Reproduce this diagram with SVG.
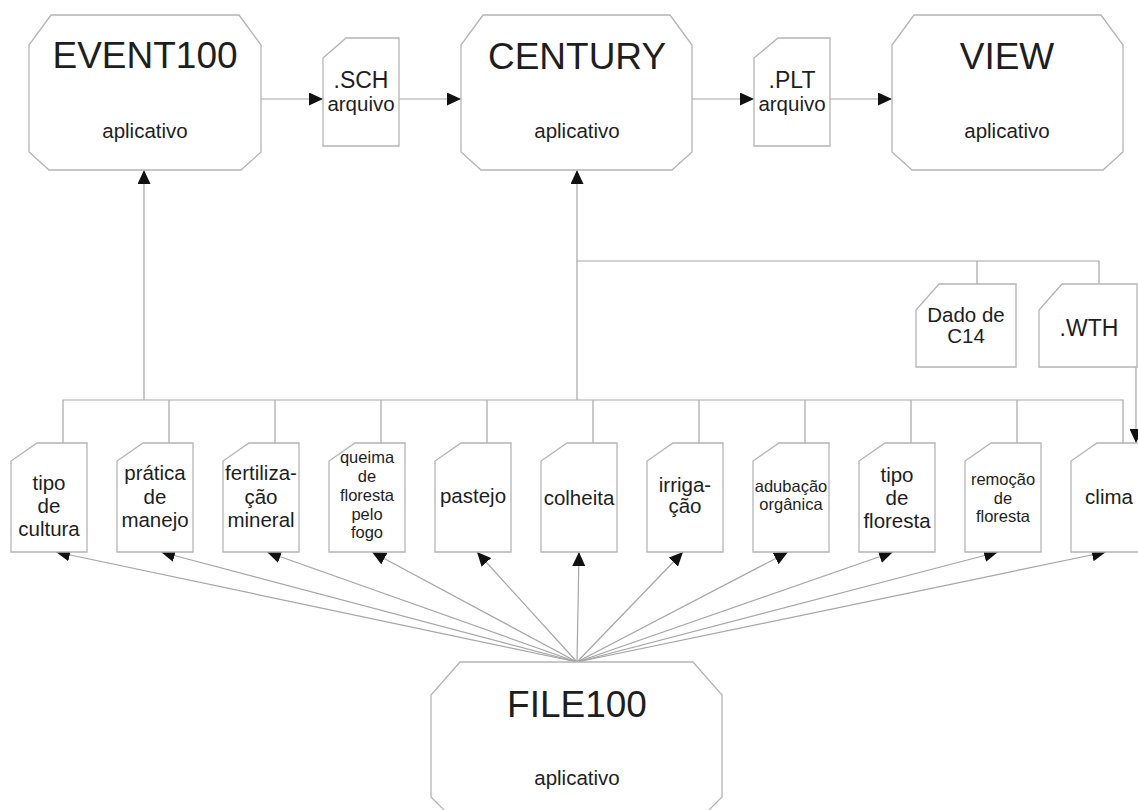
<svg xmlns="http://www.w3.org/2000/svg" width="1138" height="810" viewBox="0 0 1138 810">
<style>
.box{fill:#fff;stroke:#b4b4b4;stroke-width:1.3}
.ln{fill:none;stroke:#a6a6a6;stroke-width:1.2}
text{font-family:"Liberation Sans",Arial,sans-serif;fill:#1e1e1e;text-anchor:middle}
.t{font-size:37px}
.a{font-size:20.5px}
.f{font-size:23px}
.s{font-size:16.5px}
</style>
<defs>
<marker id="ah" viewBox="0 0 14 13" refX="14" refY="6.5" markerWidth="14" markerHeight="13" markerUnits="userSpaceOnUse" orient="auto"><path d="M0,0 L14,6.5 L0,13 Z" fill="#111"/></marker>
</defs>
<rect width="1138" height="810" fill="#fff"/>
<g id="connectors">
<path class="ln" d="M261,99 H323" marker-end="url(#ah)"/>
<path class="ln" d="M399,99 H461" marker-end="url(#ah)"/>
<path class="ln" d="M692,99 H754" marker-end="url(#ah)"/>
<path class="ln" d="M830,99 H892" marker-end="url(#ah)"/>
<path class="ln" d="M144,400 V170" marker-end="url(#ah)"/>
<path class="ln" d="M577,400 V170" marker-end="url(#ah)"/>
<path class="ln" d="M577,261 H1099 V284 M977,261 V284"/>
<path class="ln" d="M1136,367 V443" marker-end="url(#ah)"/>
<path class="ln" d="M63,443 V400 H1123 V443 M169,400 V443 M275,400 V443 M381,400 V443 M487,400 V443 M593,400 V443 M699,400 V443 M805,400 V443 M911,400 V443 M1017,400 V443"/>
<g marker-end="url(#ah)">
<path class="ln" d="M577,662 L56,552"/>
<path class="ln" d="M577,662 L161,552"/>
<path class="ln" d="M577,662 L267,552"/>
<path class="ln" d="M577,662 L372,552"/>
<path class="ln" d="M577,662 L477,552"/>
<path class="ln" d="M577,662 L579,552"/>
<path class="ln" d="M577,662 L683,552"/>
<path class="ln" d="M577,662 L788,552"/>
<path class="ln" d="M577,662 L893,552"/>
<path class="ln" d="M577,662 L998,552"/>
<path class="ln" d="M577,662 L1106,552"/>
</g>
</g>
<g id="event100">
<path class="box" d="M51,15 H239 L261,45 V152 L241,170 H49 L29,152 V45 Z"/>
<text class="t" x="145" y="68">EVENT100</text>
<text class="a" x="145" y="138">aplicativo</text>
</g>
<g id="century">
<path class="box" d="M483,15 H670 L692,45 V152 L672,170 H481 L461,152 V45 Z"/>
<text class="t" x="577" y="69">CENTURY</text>
<text class="a" x="577" y="138">aplicativo</text>
</g>
<g id="view">
<path class="box" d="M914,15 H1101 L1123,45 V152 L1103,170 H912 L892,152 V45 Z"/>
<text class="t" x="1007" y="69">VIEW</text>
<text class="a" x="1007" y="138">aplicativo</text>
</g>
<g id="file100">
<path class="box" d="M460,662 H693 L722,695 V797 L704,815 H449 L431,797 V695 Z"/>
<text class="t" x="577" y="717">FILE100</text>
<text class="a" x="577" y="785">aplicativo</text>
</g>
<g id="sch">
<path class="box" d="M346,38 H399 V146 H323 V58 Z"/>
<text class="f" x="361" y="88">.SCH</text>
<text class="a" x="361" y="111">arquivo</text>
</g>
<g id="plt">
<path class="box" d="M778,38 H830 V146 H754 V58 Z"/>
<text class="f" x="792" y="88">.PLT</text>
<text class="a" x="792" y="111">arquivo</text>
</g>
<g id="c14">
<path class="box" d="M939,284 H1016 V367 H916 V310 Z"/>
<text class="a" x="966" y="322">Dado de</text>
<text class="a" x="966" y="343">C14</text>
</g>
<g id="wth">
<path class="box" d="M1062,284 H1137 V367 H1039 V310 Z"/>
<text class="f" x="1089" y="336">.WTH</text>
</g>
<g id="tipo-cultura">
<path class="box" d="M37,443 H87 V552 H11 V461 Z"/>
<text class="a" x="49" y="490">tipo</text>
<text class="a" x="49" y="513">de</text>
<text class="a" x="49" y="536">cultura</text>
</g>
<g id="pratica-manejo">
<path class="box" d="M143,443 H193 V552 H117 V461 Z"/>
<text class="a" x="155" y="480">prática</text>
<text class="a" x="155" y="504">de</text>
<text class="a" x="155" y="527">manejo</text>
</g>
<g id="fertilizacao">
<path class="box" d="M249,443 H299 V552 H223 V461 Z"/>
<text class="a" x="261" y="480">fertiliza-</text>
<text class="a" x="261" y="504">ção</text>
<text class="a" x="261" y="527">mineral</text>
</g>
<g id="queima">
<path class="box" d="M355,443 H405 V552 H329 V461 Z"/>
<text class="s" x="367" y="463">queima</text>
<text class="s" x="367" y="482">de</text>
<text class="s" x="367" y="501">floresta</text>
<text class="s" x="367" y="520">pelo</text>
<text class="s" x="367" y="538">fogo</text>
</g>
<g id="pastejo">
<path class="box" d="M461,443 H511 V552 H435 V461 Z"/>
<text class="a" x="473" y="503">pastejo</text>
</g>
<g id="colheita">
<path class="box" d="M567,443 H617 V552 H541 V461 Z"/>
<text class="a" x="579" y="505">colheita</text>
</g>
<g id="irrigacao">
<path class="box" d="M673,443 H723 V552 H647 V461 Z"/>
<text class="a" x="685" y="492">irriga-</text>
<text class="a" x="685" y="513">ção</text>
</g>
<g id="adubacao">
<path class="box" d="M779,443 H829 V552 H753 V461 Z"/>
<text class="s" x="791" y="492">adubação</text>
<text class="s" x="791" y="510">orgânica</text>
</g>
<g id="tipo-floresta">
<path class="box" d="M885,443 H935 V552 H859 V461 Z"/>
<text class="a" x="897" y="482">tipo</text>
<text class="a" x="897" y="505">de</text>
<text class="a" x="897" y="528">floresta</text>
</g>
<g id="remocao">
<path class="box" d="M991,443 H1041 V552 H965 V461 Z"/>
<text class="s" x="1003" y="485">remoção</text>
<text class="s" x="1003" y="504">de</text>
<text class="s" x="1003" y="522">floresta</text>
</g>
<g id="clima">
<path class="box" d="M1097,443 H1147 V552 H1071 V461 Z"/>
<text class="a" x="1109" y="504">clima</text>
</g>
</svg>
